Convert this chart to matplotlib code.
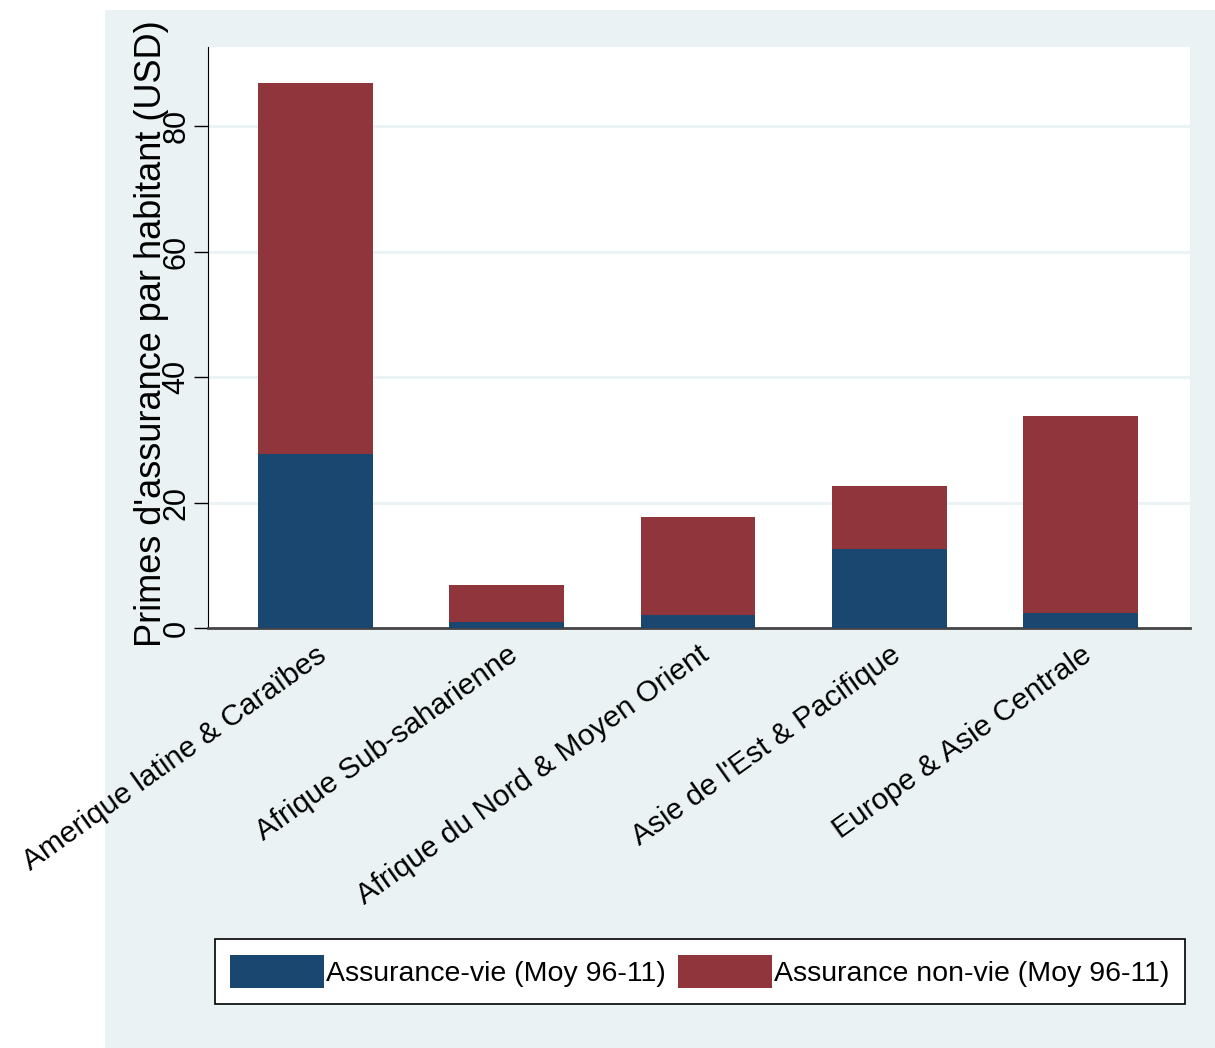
import matplotlib
matplotlib.use("Agg")
import matplotlib.pyplot as plt
from matplotlib.patches import Rectangle
import numpy as np

plt.rcParams["font.family"] = ["Liberation Sans", "DejaVu Sans"]

regions = [
    "Amerique latine & Caraïbes",
    "Afrique Sub-saharienne",
    "Afrique du Nord & Moyen Orient",
    "Asie de l'Est & Pacifique",
    "Europe & Asie Centrale",
]
vie = [27.7, 1.0, 2.1, 12.6, 2.4]
non_vie = [59.2, 5.9, 15.6, 10.0, 31.4]
y_ticks = [0, 20, 40, 60, 80]

NAVY = "#1a476f"
MAROON = "#90353b"
BG = "#eaf2f3"

fig = plt.figure(figsize=(12.15, 10.48), dpi=100)
fig.patches.append(Rectangle((105 / 1215, 0), 1, 1 - 10 / 1048, transform=fig.transFigure,
                             facecolor=BG, edgecolor="none", zorder=-10))
ax = fig.add_axes([208 / 1215, 1 - 628 / 1048, (1190 - 208) / 1215, (628 - 47) / 1048])

x = np.arange(len(regions))
ax.bar(x, vie, width=0.6, color=NAVY, linewidth=0, label="Assurance-vie (Moy 96-11)", zorder=3)
ax.bar(x, non_vie, width=0.6, bottom=vie, color=MAROON, linewidth=0,
       label="Assurance non-vie (Moy 96-11)", zorder=3)

ax.set_xlim(-0.56, 4.57)
ax.set_ylim(0, 92.6)
ax.set_yticks(y_ticks)
ax.set_yticklabels([str(v) for v in y_ticks], rotation=90, va="center", fontsize=22)
ax.set_xticks(x)
ax.set_xticklabels(regions, rotation=35.5, ha="right", rotation_mode="anchor", fontsize=21.5)
ax.tick_params(axis="x", length=0, pad=9)
ax.tick_params(axis="y", length=10, width=1, pad=2)
ax.grid(axis="y", color=BG, linewidth=2, zorder=0)
ax.set_axisbelow(True)
for side in ("top", "right"):
    ax.spines[side].set_visible(False)
ax.spines["left"].set_color("black")
ax.spines["bottom"].set_color("#444444")
ax.spines["bottom"].set_linewidth(2)
ax.set_ylabel("Primes d'assurance par habitant (USD)", fontsize=26)
ax.yaxis.set_label_coords(-0.040, 0.506)

leg = fig.legend(loc="center", bbox_to_anchor=(0.576, 0.073), ncol=2, fontsize=20.5,
                 frameon=True, fancybox=False, edgecolor="black", framealpha=1,
                 handlelength=3.3, handleheight=1.4, handletextpad=0.05, columnspacing=0.45,
                 borderpad=0.55)
leg.get_frame().set_linewidth(1.2)

fig.savefig("out.png", dpi=100)
